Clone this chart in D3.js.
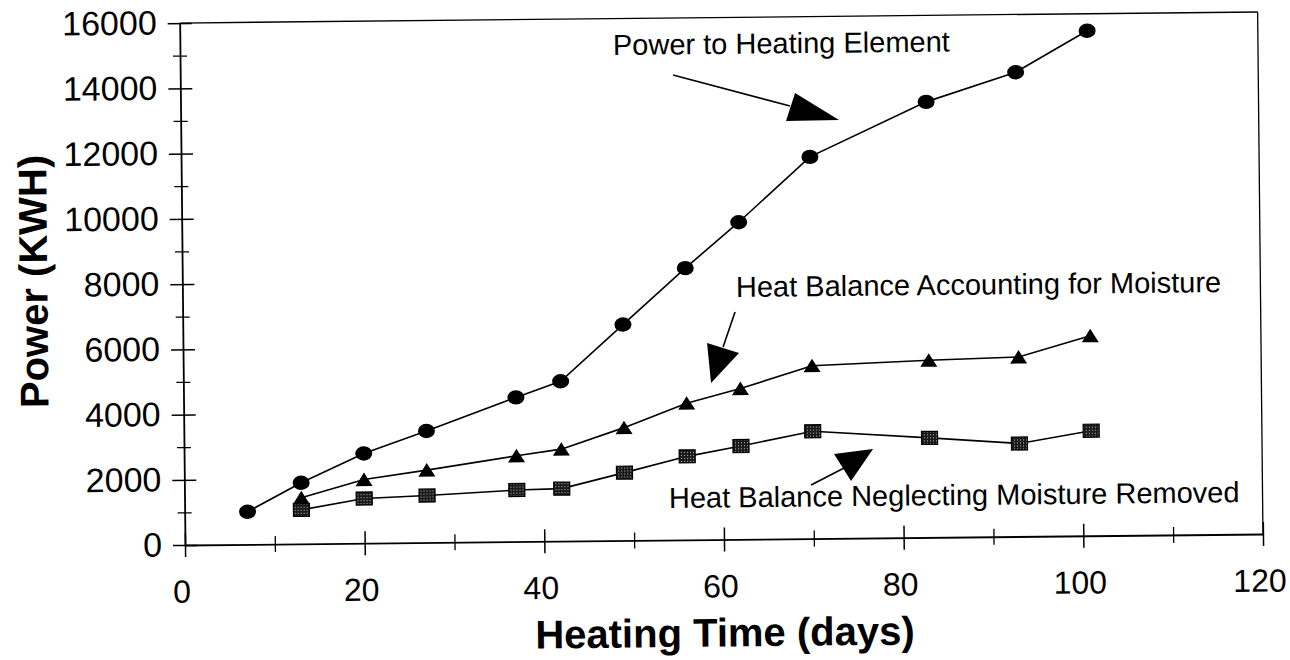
<!DOCTYPE html>
<html><head><meta charset="utf-8">
<script src="https://cdn.jsdelivr.net/npm/d3@7"></script>
<style>html,body{margin:0;padding:0;background:#fff;} svg{display:block;}</style>
</head><body>
<svg id="chart" width="1290" height="660"></svg>
<script>
// ---- data ----
const days = [7,13,20,27,37,42,49,56,62,70,83,93,101];
const powerToElement = [1000,1870,2750,3420,4420,4900,6620,8330,9720,11700,13350,14230,15480];
const daysBalance = [13,20,27,37,42,49,56,62,70,83,93,101];
const accountingMoisture = [1410,1950,2220,2630,2820,3460,4190,4620,5300,5430,5500,6130];
const neglectingMoisture = [1040,1370,1440,1580,1610,2080,2560,2860,3290,3050,2850,3220];
const xTicks = [0,20,40,60,80,100,120];
const xMinorTicks = [10,30,50,70,90,110];
const yTicks = [0,2000,4000,6000,8000,10000,12000,14000,16000];
const yMinorTicks = [1000,3000,5000,7000,9000,11000,13000,15000];
const xTitle = "Heating Time (days)";
const yTitle = "Power (KWH)";
// annotations in data units (day, kWh)
const annotationLabels = ["Power to Heating Element","Heat Balance Accounting for Moisture","Heat Balance Neglecting Moisture Removed"];
const annotationAnchors = [[48.2,14885],[61.62,7429],[53.92,983]];
const arrowTails = [[54.86,14253],[61.49,6970],[69.76,1643]];
const arrowEnds = [[67.85,13266],[60.12,5900],[73.45,2155]];
const arrowHeads = [
  [[68.42,13664],[67.38,12809],[73.28,12822]],
  [[58.34,6029],[61.89,5713],[58.74,4800]],
  [[72.35,2587],[76.70,2728],[74.21,1753]]
];

const FONT = "'Liberation Sans', Arial, Helvetica, sans-serif";
const svg = d3.select("#chart");

const defs = svg.append("defs");
const pat = defs.append("pattern").attr("id","stip").attr("width",3).attr("height",3)
  .attr("patternUnits","userSpaceOnUse");
pat.append("rect").attr("width",3).attr("height",3).attr("fill","#1a1a1a");
pat.append("rect").attr("x",1).attr("y",1).attr("width",1).attr("height",1).attr("fill","#b8b8b8");

const x = d3.scaleLinear().domain([0,120]).range([185,1263]);
const y = d3.scaleLinear().domain([0,16000]).range([545,23]);
const fmt = d3.format("d");

const g = svg.append("g").attr("transform","rotate(-0.585,185,545)");

// frame (top & right)
g.append("line").attr("x1",x(0)).attr("x2",x(120)).attr("y1",y(16000)).attr("y2",y(16000))
  .attr("stroke","#000").attr("stroke-width",1.3);
g.append("line").attr("x1",x(120)).attr("x2",x(120)).attr("y1",y(16000)).attr("y2",y(0))
  .attr("stroke","#000").attr("stroke-width",1.3);

// x axis
const xa = g.append("g").attr("transform",`translate(0,${y(0)})`)
  .call(d3.axisBottom(x).tickValues(xTicks).tickFormat(fmt).tickSize(0).tickPadding(35).tickSizeOuter(0));
xa.select(".domain").attr("stroke","#000").attr("stroke-width",1.8);
xa.selectAll(".tick line").attr("y1",-12).attr("y2",12).attr("stroke","#000").attr("stroke-width",1.5);
xa.selectAll(".tick text").attr("font-size",32).attr("font-family",FONT).attr("fill","#000").attr("x",-4);
const xm = g.append("g").attr("transform",`translate(0,${y(0)})`)
  .call(d3.axisBottom(x).tickValues(xMinorTicks).tickSize(0).tickFormat("").tickSizeOuter(0));
xm.select(".domain").remove();
xm.selectAll(".tick line").attr("y1",-8).attr("y2",8).attr("stroke","#000").attr("stroke-width",1.3);

// y axis
const ya = g.append("g").attr("transform",`translate(${x(0)},0)`)
  .call(d3.axisLeft(y).tickValues(yTicks).tickFormat(fmt).tickSize(0).tickPadding(23).tickSizeOuter(0));
ya.select(".domain").attr("stroke","#000").attr("stroke-width",1.8);
ya.selectAll(".tick line").attr("x1",-12).attr("x2",12).attr("stroke","#000").attr("stroke-width",1.5);
ya.selectAll(".tick text").attr("font-size",34).attr("font-family",FONT).attr("fill","#000");
const ym = g.append("g").attr("transform",`translate(${x(0)},0)`)
  .call(d3.axisLeft(y).tickValues(yMinorTicks).tickSize(0).tickFormat("").tickSizeOuter(0));
ym.select(".domain").remove();
ym.selectAll(".tick line").attr("x1",-7).attr("x2",7).attr("stroke","#000").attr("stroke-width",1.3);

// titles
g.append("text").attr("x",724).attr("y",652).attr("text-anchor","middle")
  .attr("font-family",FONT).attr("font-weight","bold").attr("font-size",40).text(xTitle);
g.append("text").attr("transform","translate(50,280) rotate(-90)").attr("text-anchor","middle")
  .attr("font-family",FONT).attr("font-weight","bold").attr("font-size",40).text(yTitle);

// series
const line = d3.line().x(d=>x(d[0])).y(d=>y(d[1]));
const s1 = days.map((d,i)=>[d,powerToElement[i]]);
const s2 = daysBalance.map((d,i)=>[d,accountingMoisture[i]]);
const s3 = daysBalance.map((d,i)=>[d,neglectingMoisture[i]]);
[s1,s2,s3].forEach(s=>{
  g.append("path").datum(s).attr("d",line).attr("fill","none").attr("stroke","#000").attr("stroke-width",1.6);
});
g.selectAll(".sq").data(s3).enter().append("rect")
  .attr("x",d=>x(d[0])-8).attr("y",d=>y(d[1])-6.5).attr("width",16).attr("height",13)
  .attr("fill","url(#stip)").attr("stroke","#000").attr("stroke-width",1.2);
g.selectAll(".tri").data(s2).enter().append("path")
  .attr("transform",d=>`translate(${x(d[0])},${y(d[1])})`)
  .attr("d","M0,-7L8.5,6.5L-8.5,6.5Z").attr("fill","#000");
g.selectAll(".circ").data(s1).enter().append("ellipse")
  .attr("cx",d=>x(d[0])).attr("cy",d=>y(d[1])).attr("rx",8.5).attr("ry",7.2).attr("fill","#000");

// annotations
annotationLabels.forEach((t,i)=>{
  g.append("text").attr("x",x(annotationAnchors[i][0])).attr("y",y(annotationAnchors[i][1]))
    .attr("font-family",FONT).attr("font-size",29).attr("fill","#000").text(t);
  g.append("line").attr("x1",x(arrowTails[i][0])).attr("y1",y(arrowTails[i][1]))
    .attr("x2",x(arrowEnds[i][0])).attr("y2",y(arrowEnds[i][1]))
    .attr("stroke","#000").attr("stroke-width",1.6);
  g.append("path").attr("d","M"+arrowHeads[i].map(p=>x(p[0])+","+y(p[1])).join("L")+"Z")
    .attr("fill","#000");
});
</script>
</body></html>
